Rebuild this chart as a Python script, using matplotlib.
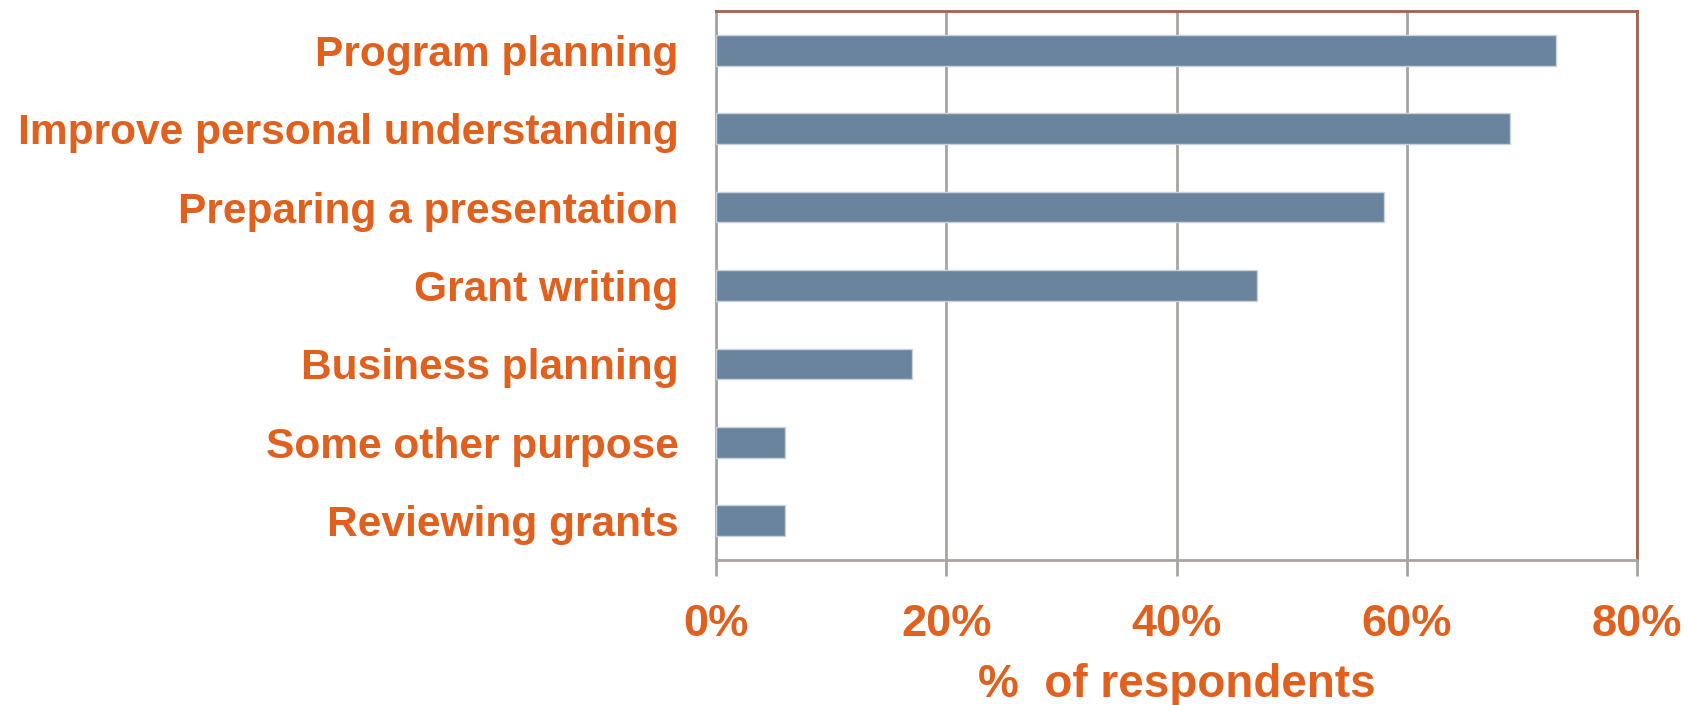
import matplotlib
matplotlib.use("Agg")
import matplotlib.pyplot as plt

categories = ["Program planning", "Improve personal understanding", "Preparing a presentation",
              "Grant writing", "Business planning", "Some other purpose", "Reviewing grants"]
values = [73, 69, 58, 47, 17, 6, 6]
xticks = [0, 20, 40, 60, 80]
xtick_labels = ["0%", "20%", "40%", "60%", "80%"]

ORANGE = "#E0601E"
BAR = "#6A849E"
GRID = "#A8A4A0"
BROWN = "#A0644A"

plt.rcParams['font.family'] = ['Liberation Sans', 'DejaVu Sans']

fig = plt.figure(figsize=(16.88, 7.05), dpi=100)
ax = fig.add_axes([716/1688, 1 - 560/705, (1637-716)/1688, (560-11)/705])

y = list(range(len(categories)))
ax.barh(y, values, height=0.39, color=BAR, edgecolor="#C8D2DC", linewidth=1.0, zorder=3)
ax.set_ylim(len(categories) - 0.5, -0.5)
ax.set_xlim(0, 80)

ax.set_xticks(xticks)
ax.set_xticklabels(xtick_labels)
ax.set_yticks(y)
ax.set_yticklabels(categories)

for lbl in ax.get_yticklabels():
    lbl.set_color(ORANGE)
    lbl.set_fontweight('bold')
    lbl.set_fontsize(30.6)
for lbl in ax.get_xticklabels():
    lbl.set_color(ORANGE)
    lbl.set_fontweight('bold')
    lbl.set_fontsize(32.5)

ax.tick_params(axis='y', length=0, pad=27)
ax.tick_params(axis='x', length=11.5, width=2, color=GRID, pad=20, direction='out')

ax.grid(axis='x', color=GRID, linewidth=2, zorder=0)
ax.set_axisbelow(True)

ax.spines['left'].set_color(GRID)
ax.spines['bottom'].set_color(GRID)
ax.spines['left'].set_linewidth(2)
ax.spines['bottom'].set_linewidth(2)
ax.spines['top'].set_color(BROWN)
ax.spines['right'].set_color(BROWN)
ax.spines['top'].set_linewidth(2)
ax.spines['right'].set_linewidth(2)

ax.set_xlabel("%  of respondents", color=ORANGE, fontsize=33, fontweight='bold', labelpad=13)

fig.savefig("out.png", dpi=100)
